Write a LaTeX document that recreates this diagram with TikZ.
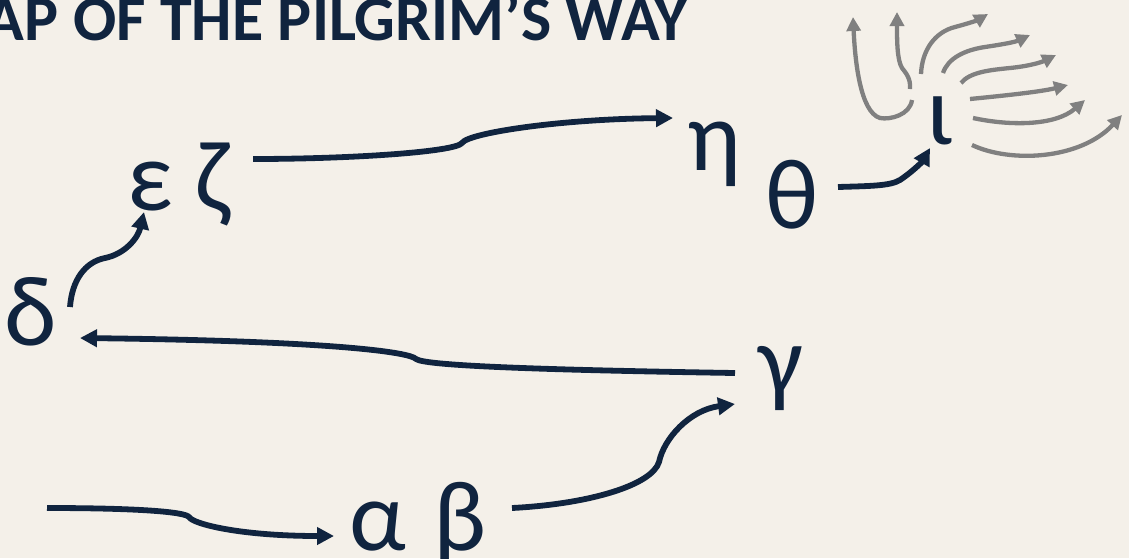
\documentclass[tikz,border=0pt]{standalone}
\usepackage{fontspec}
\setmainfont{Carlito}
\usetikzlibrary{arrows.meta}
\definecolor{bg}{HTML}{F4F0E9}
\definecolor{navy}{HTML}{10243F}
\definecolor{gry}{HTML}{808080}
\begin{document}
\begin{tikzpicture}[x=1pt,y=-1pt,
  letter/.style={inner sep=0pt, anchor=base, text=navy, font=\fontsize{100}{100}\selectfont},
  conn/.style={draw=navy, line width=5.8pt, -{Triangle[length=17pt,width=17pt]}},
  ray/.style={draw=gry, line width=4.3pt, -{Triangle[length=14pt,width=14pt]}}]
\useasboundingbox (0,0) rectangle (1129,558);
\fill[bg] (0,0) rectangle (1129,558);

\node[anchor=base east, inner sep=0pt, text=navy, font=\fontsize{64}{64}\selectfont\bfseries] (title) at (688,40) {AP OF THE PILGRIM’S WAY};

\node[letter] (alpha) at (378,550) {α};
\node[letter] (beta) at (460,550) {β};
\node[letter] (gamma) at (781,394) {γ};
\node[letter] (delta) at (31,345) {δ};
\node[letter] (eps) at (150,210) {ε};
\node[letter] (zeta) at (213,210) {ζ};
\node[letter] (eta) at (714,170) {η};
\node[letter] (theta) at (792,228) {θ};
\node[letter] (iota) at (940,144) {ι};

\coordinate (start) at (47,508);

% start -> alpha
\draw[conn] (start) .. controls (140,508) and (185,512) .. (189,517)
  .. controls (193,524) and (240,536) .. ([shift={(-44,-14)}]alpha.base);
% beta -> gamma
\draw[conn] ([shift={(52,-42)}]beta.base) .. controls (590,504) and (652,485) .. (659,462)
  .. controls (664,438) and (690,410) .. ([shift={(-46,10)}]gamma.base);
% gamma -> delta
\draw[conn] ([shift={(-46,-21)}]gamma.base) .. controls (550,370) and (425,366) .. (416,359)
  .. controls (410,352) and (330,341) .. ([shift={(49,-7)}]delta.base);
% delta -> epsilon
\draw[conn] ([shift={(39,-38)}]delta.base) .. controls (72,280) and (85,262) .. (105,258)
  .. controls (125,254) and (138,238) .. ([shift={(-6,2)}]eps.base);
% zeta -> eta
\draw[conn] ([shift={(40,-51)}]zeta.base) .. controls (350,159) and (455,152) .. (462,143)
  .. controls (468,133) and (560,119) .. ([shift={(-41,-52)}]eta.base);
% theta -> iota
\draw[conn] ([shift={(46,-41)}]theta.base) .. controls (870,186) and (890,186) .. (900,180)
  .. controls (912,172) and (922,162) .. ([shift={(-10,4)}]iota.base);

% gray rays from iota
\draw[ray] ([shift={(-28,-44)}]iota.base) .. controls (910,115) and (890,120) .. (880,118)
  .. controls (860,112) and (855,60) .. ([shift={(-87,-127)}]iota.base);
\draw[ray] ([shift={(-30,-55)}]iota.base) .. controls (911,78) and (905,72) .. (902,68)
  .. controls (897,60) and (897,40) .. ([shift={(-43,-132)}]iota.base);
\draw[ray] ([shift={(-19,-70)}]iota.base) .. controls (922,50) and (935,32) .. (955,27)
  .. controls (970,23) and (978,20) .. ([shift={(48,-130)}]iota.base);
\draw[ray] ([shift={(3,-71)}]iota.base) .. controls (948,58) and (965,50) .. (985,47)
  .. controls (1005,44) and (1015,42) .. ([shift={(90,-109)}]iota.base);
\draw[ray] ([shift={(21,-61)}]iota.base) .. controls (970,72) and (990,70) .. (1010,68)
  .. controls (1030,66) and (1042,62) .. ([shift={(116,-89)}]iota.base);
\draw[ray] ([shift={(30,-45)}]iota.base) .. controls (1000,96) and (1040,92) .. ([shift={(128,-59)}]iota.base);
\draw[ray] ([shift={(33,-26)}]iota.base) .. controls (1010,126) and (1055,126) .. ([shift={(145,-44)}]iota.base);
\draw[ray] ([shift={(32,1)}]iota.base) .. controls (1010,163) and (1080,160) .. ([shift={(182,-29)}]iota.base);
\end{tikzpicture}
\end{document}
